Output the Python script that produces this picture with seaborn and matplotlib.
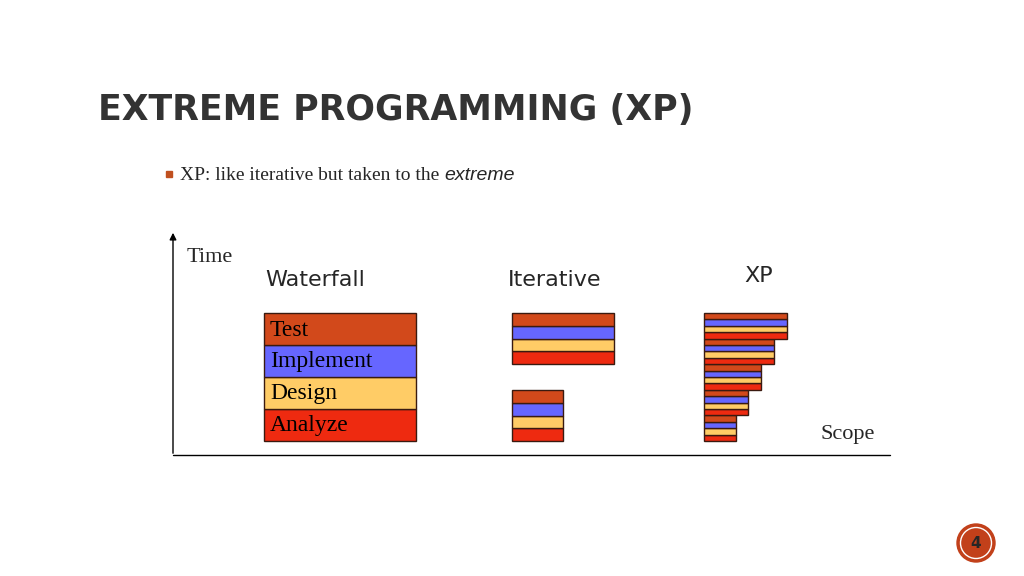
import matplotlib.pyplot as plt
import seaborn as sns
from matplotlib.patches import Circle, FancyArrowPatch

phases = ["Analyze", "Design", "Implement", "Test"]
phase_colors = ["#EE2A10", "#FFCC66", "#6666FF", "#D2491B"]

# widths (in scope units, px) of each delivery, bottom to top
waterfall_widths = [152]
iterative_widths = [51, 102]
xp_widths = [32, 44, 57, 70, 83]

sns.set_theme(style="white")
fig = plt.figure(figsize=(10.24, 5.76), dpi=100)
ax = fig.add_axes([0, 0, 1, 1])
ax.set_xlim(0, 1024)
ax.set_ylim(576, 0)
ax.axis("off")


def draw_stack(x0, widths, bottom, total_h, gap=0):
    n = len(widths) * len(phases)
    h = (total_h - gap * (len(widths) - 1)) / n
    y = bottom
    for w in widths:
        for p, c in zip(phases, phase_colors):
            ax.barh(y - h / 2, w, height=h, left=x0, color=c,
                    edgecolor="#3a1a10", linewidth=1.0, align="center")
            y -= h
        y -= gap


draw_stack(264, waterfall_widths, 441, 128)
for i, p in enumerate(phases):
    ax.text(270, 441 - 32 * i - 15, p, fontsize=17, family="Liberation Serif",
            va="center", color="black")
draw_stack(512, iterative_widths, 441, 128, gap=26)
draw_stack(704, xp_widths, 441, 128)

# axes arrows
ax.plot([173, 890], [455, 455], color="black", lw=1)
ax.add_patch(FancyArrowPatch((173, 456), (173, 230), arrowstyle="-|>",
                             mutation_scale=10, color="black", lw=1))
ax.text(187, 258, "Time", fontsize=16, family="Liberation Serif", va="center")
ax.text(821, 434, "Scope", fontsize=16, family="Liberation Serif", va="center")

ax.text(265, 280, "Waterfall", fontsize=16, family="DejaVu Sans", va="center")
ax.text(508, 280, "Iterative", fontsize=16, family="DejaVu Sans", va="center")
ax.text(744, 276, "XP", fontsize=16, family="DejaVu Sans", va="center")

# title and bullet
ax.text(98, 110, "EXTREME PROGRAMMING (XP)", fontsize=25, fontweight="bold",
        family="DejaVu Sans", color="#333333", va="center")
ax.plot([169], [174], marker="s", markersize=4, color="#C0501F")
t = ax.text(180, 175, "XP: like iterative but taken to the ", fontsize=14,
            family="Liberation Serif", va="center")
ax.annotate("extreme", xy=(1, 0.5), xycoords=t, fontsize=14,
            family="Liberation Sans", style="italic", va="center")

# page number
ax.add_patch(Circle((976, 543), 19, color="#C2401A"))
ax.add_patch(Circle((976, 543), 15.5, fill=False, ec="white", lw=1))
ax.text(976, 544, "4", fontsize=11, fontweight="bold", ha="center", va="center")

fig.savefig("out.png", dpi=100)
